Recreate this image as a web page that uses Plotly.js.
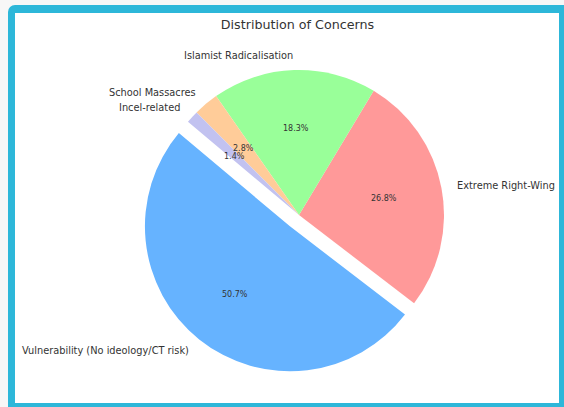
<!DOCTYPE html>
<html><head><meta charset="utf-8">
<script src="https://cdn.plot.ly/plotly-3.0.1.min.js"></script>
<style>
html,body{margin:0;padding:0;background:#f7f7f7;width:564px;height:407px;overflow:hidden;}
#frame{position:absolute;left:8px;top:5px;width:544px;height:390px;background:#fff;border-style:solid;border-color:#2db7d9;border-width:8px 8px 8px 7px;border-top-left-radius:7px;}
#chart{position:absolute;left:0;top:0;width:564px;height:407px;}
</style></head><body>
<div id="frame"></div><div id="chart"></div>
<script>
// ---- data ----
const categories = ["Vulnerability (No ideology/CT risk)", "Extreme Right-Wing", "Islamist Radicalisation", "School Massacres", "Incel-related"];
const values = [50.7, 26.8, 18.3, 2.8, 1.4];
const colors = ["#66b3ff", "#ff9999", "#99ff99", "#ffcc99", "#c2c2f0"];
const pulls = [0.1, 0, 0, 0, 0];
const chartTitle = "Distribution of Concerns";

// ---- layout geometry (pixels) ----
const W = 564, H = 407;
const CX = 299, CY = 215, R = 145;   // pie centre and radius
const START = 140;                    // start angle (deg, counter-clockwise from 3 o'clock)
const LABEL_D = 1.1, PCT_D = 0.6;
const maxPull = Math.max(...pulls);
const half = R * (1 + maxPull);
const font = "DejaVu Sans, Verdana, sans-serif";

const total = values.reduce((a, b) => a + b, 0);
const annotations = [];
let cum = 0;
values.forEach((v, i) => {
  const mid = (START + 360 * (cum + v / 2) / total) * Math.PI / 180;
  cum += v;
  const c = Math.cos(mid), s = Math.sin(mid);
  const ox = CX + pulls[i] * R * c, oy = CY - pulls[i] * R * s;
  const lx = ox + LABEL_D * R * c, ly = oy - LABEL_D * R * s;
  const px = ox + PCT_D * R * c, py = oy - PCT_D * R * s;
  annotations.push({
    xref: "paper", yref: "paper", x: lx / W, y: 1 - ly / H,
    text: categories[i], showarrow: false, borderpad: 0,
    xanchor: c > 0 ? "left" : "right", yanchor: "middle",
    font: {family: font, size: 9.8, color: "#333"}
  });
  annotations.push({
    xref: "paper", yref: "paper", x: px / W, y: 1 - py / H,
    text: (v / total * 100).toFixed(1) + "%", showarrow: false, borderpad: 0,
    xanchor: "center", yanchor: "middle",
    font: {family: font, size: 8, color: "#333"}
  });
});

// Plotly (counterclockwise): first slice ends at `rotation` (clockwise from 12 o'clock)
const rotation = (90 - START) - 360 * values[0] / total;

const trace = {
  type: "pie",
  labels: categories,
  values: values,
  marker: {colors: colors, line: {width: 0}},
  pull: pulls,
  sort: false,
  direction: "counterclockwise",
  rotation: rotation,
  textinfo: "none",
  hoverinfo: "label+percent",
  showlegend: false,
  domain: {
    x: [(CX - half) / W, (CX + half) / W],
    y: [1 - (CY + half) / H, 1 - (CY - half) / H]
  }
};

const layout = {
  width: W, height: H,
  margin: {l: 0, r: 0, t: 0, b: 0},
  paper_bgcolor: "rgba(0,0,0,0)",
  plot_bgcolor: "rgba(0,0,0,0)",
  title: {
    text: chartTitle, xref: "paper", yref: "paper",
    x: 297.5 / W, y: 1 - 25 / H, xanchor: "center", yanchor: "middle",
    font: {family: font, size: 12.7, color: "#333"}
  },
  annotations: annotations,
  showlegend: false
};

Plotly.newPlot("chart", [trace], layout, {displayModeBar: false, staticPlot: true});
</script>
</body></html>
